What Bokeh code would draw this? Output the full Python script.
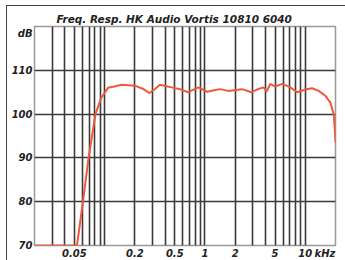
from bokeh.plotting import figure
from bokeh.models import Range1d, FixedTicker
from bokeh.embed import file_html
from bokeh.resources import INLINE

# Data
freq_khz = [0.02, 0.053, 0.0608, 0.0692, 0.081, 0.093, 0.108, 0.125, 0.147, 0.2, 0.24,
            0.28, 0.32, 0.355, 0.465, 0.58, 0.68, 0.86, 1.05, 1.2, 1.41, 1.71, 2.34,
            2.9, 3.3, 3.83, 4.13, 4.47, 5.0, 5.9, 7.1, 8.3, 10.0, 11.7, 13.6, 15.8,
            17.8, 19.2, 19.7, 20.0]
level_db = [70, 70, 80, 90, 100, 103.8, 106.0, 106.3, 106.7, 106.5, 105.8,
            104.8, 105.8, 106.7, 106.1, 105.6, 105.0, 106.1, 105.1, 105.4, 105.7, 105.3, 105.7,
            105.0, 105.6, 106.1, 105.2, 106.9, 106.3, 106.9, 106.1, 105.0, 105.6, 105.9, 105.3, 104.2,
            102.6, 99.9, 96.5, 93.5]

# tick label positions and texts (unit labels sit at their own positions)
x_label_ticks = [0.05, 0.2, 0.5, 1, 2, 5, 10, 15.7]
x_label_text = ["0.05", "0.2", "0.5", "1", "2", "5", "10", "kHz"]
x_grid_ticks = [0.02, 0.03, 0.04, 0.05, 0.06, 0.07, 0.08, 0.09,
                0.1, 0.2, 0.3, 0.4, 0.5, 0.6, 0.7, 0.8, 0.9,
                1, 2, 3, 4, 5, 6, 7, 8, 9, 10]
y_grid_ticks = [70, 80, 90, 100, 110]
y_label_ticks = [70, 80, 90, 100, 110, 118.5]
y_label_text = ["70", "80", "90", "100", "110", "dB"]

title_text = "Freq. Resp. HK Audio Vortis 10810 6040"

FONT = "DejaVu Sans"
GRID = "#3a3a3a"
TXT = "#222222"

p = figure(frame_width=301, frame_height=219, x_axis_type="log",
           x_range=Range1d(0.02, 20), y_range=Range1d(70, 120),
           output_backend="svg", toolbar_location=None,
           min_border_left=27, min_border_right=10, min_border_top=20, min_border_bottom=13)

p.styles = {"margin-left": "6px", "margin-top": "5px",
            "border-left": "1px solid #444444", "border-top": "1px solid #444444",
            "border-bottom": "1px solid #444444"}

p.title.text = title_text
p.title.text_font = FONT
p.title.text_font_style = "bold italic"
p.title.text_font_size = "10.5px"
p.title.text_color = TXT
p.title.align = "left"
p.title.offset = 22
p.title.standoff = 3

p.outline_line_color = "#999999"
p.outline_line_width = 1.5

p.xgrid.ticker = FixedTicker(ticks=x_grid_ticks)
p.xgrid.grid_line_color = GRID
p.xgrid.grid_line_width = 1.6
p.ygrid.ticker = FixedTicker(ticks=y_grid_ticks)
p.ygrid.grid_line_color = GRID
p.ygrid.grid_line_width = 1.6

for ax in (p.xaxis[0], p.yaxis[0]):
    ax.axis_line_color = None
    ax.major_tick_line_color = None
    ax.minor_tick_line_color = None
    ax.major_tick_out = 0
    ax.major_tick_in = 0
    ax.minor_tick_out = 0
    ax.major_label_text_font = FONT
    ax.major_label_text_font_style = "bold italic"
    ax.major_label_text_font_size = "10px"
    ax.major_label_text_color = TXT

p.xaxis.ticker = FixedTicker(ticks=x_label_ticks)
p.xaxis.major_label_overrides = {t: s for t, s in zip(x_label_ticks, x_label_text)}
p.xaxis.major_label_standoff = 2
p.yaxis.ticker = FixedTicker(ticks=y_label_ticks)
p.yaxis.major_label_overrides = {t: s for t, s in zip(y_label_ticks, y_label_text)}
p.yaxis.major_label_standoff = 2

p.line(freq_khz, level_db, line_color="#f0583a", line_width=2)

open("out.html", "w").write(file_html(p, INLINE))
